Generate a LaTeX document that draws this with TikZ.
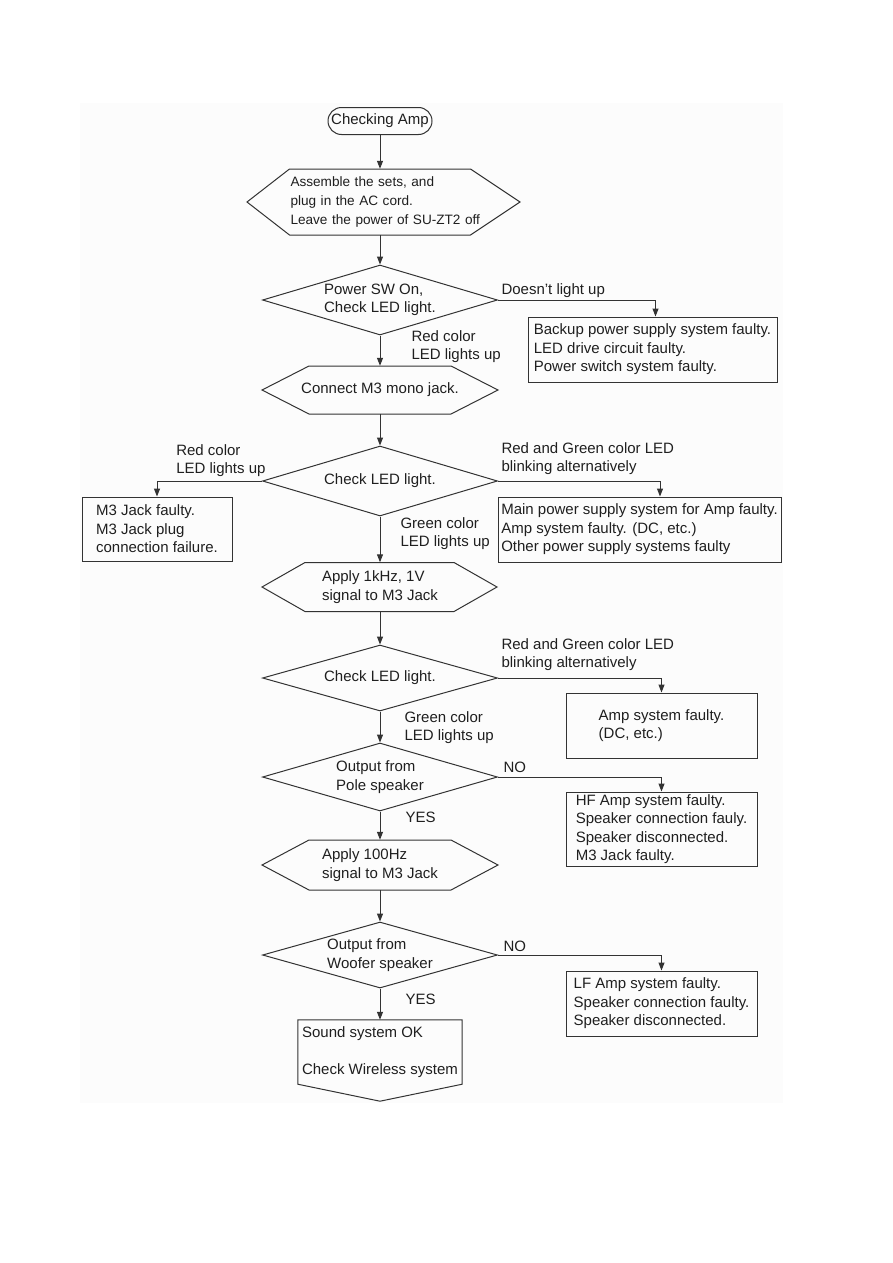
\documentclass[tikz,border=0pt]{standalone}
\usepackage{fontspec}
\setmainfont{Liberation Sans}
\usetikzlibrary{shapes.geometric,arrows.meta}

\begin{document}
\begin{tikzpicture}[
  x=1pt, y=-1pt,
  font=\fontsize{15}{18.5}\selectfont,
  text=black!88,
  conn/.style={draw=black!80, line width=1pt},
  >={Stealth[length=8pt, width=6pt, inset=0pt]},
  startbox/.style={conn, rounded corners=13.5pt, minimum width=104pt, minimum height=27pt, inner sep=0pt},
  hexbox/.style={inner sep=0pt, align=left, minimum height=#1},
  check/.style={conn, diamond, aspect=3.36, minimum width=235pt, minimum height=70pt, inner sep=0pt, align=left},
  fault/.style={conn, align=left, inner sep=0pt},
  lbl/.style={inner sep=0pt, align=left}
]
\useasboundingbox (0,0) rectangle (893,1263);
\fill[black!1] (80,103) rectangle (783,1103);

% main column
\node[startbox] (start) at (380,121) {Checking Amp};
\node[hexbox=66pt, text width=179pt, inner xsep=1pt, font=\fontsize{13.6}{19}\selectfont] (set) at (380,202) {Assemble the sets, and\\plug in the AC cord.\\\mbox{Leave the power of SU-ZT2 off}};
\node[check] (power) at (380,300) {Power SW On,\\Check LED light.};
\node[hexbox=48pt] (jack) at (380,390) {Connect M3 mono jack.};
\node[check] (led1) at (380,481) {Check LED light.};
\node[hexbox=49pt] (sig1k) at (380,587) {Apply 1kHz, 1V\\signal to M3 Jack};
\node[check, minimum height=66pt] (led2) at (380,678) {Check LED light.};
\node[check, minimum height=68pt] (pole) at (380,777) {Output from\\Pole speaker};
\node[hexbox=50pt] (sig100) at (380,865) {Apply 100Hz\\signal to M3 Jack};
\node[check, minimum height=66pt] (woofer) at (380,955) {Output from\\Woofer speaker};
\node[inner sep=0pt, align=left, minimum width=164pt, minimum height=64pt] (ok) at (380,1052) {Sound system OK\\[18.5pt]Check Wireless system};

% fault boxes
\node[fault, minimum width=249pt, minimum height=65pt] (backup) at (652.5,349.5) {Backup power supply system faulty.\\LED drive circuit faulty.\\Power switch system faulty.};
\node[fault, minimum width=150pt, minimum height=64pt] (m3) at (157,529) {M3 Jack faulty.\\M3 Jack plug\\connection failure.};
\node[fault, minimum width=283pt, minimum height=65pt] (mainps) at (639.5,529.5) {Main power supply system for Amp faulty.\\Amp system faulty. (DC, etc.)\\Other power supply systems faulty};
\node[fault, minimum width=191pt, minimum height=65pt] (ampsys) at (661.5,725.5) {Amp system faulty.\\(DC, etc.)};
\node[fault, minimum width=191pt, minimum height=74pt] (hf) at (661.5,829) {HF Amp system faulty.\\Speaker connection fauly.\\Speaker disconnected.\\M3 Jack faulty.};
\node[fault, minimum width=191pt, minimum height=65pt] (lf) at (661.5,1003.5) {LF Amp system faulty.\\Speaker connection faulty.\\Speaker disconnected.};

% outlines
\draw[conn] ([shift={(-90.5,-33)}]set.center) -- ([shift={(90.5,-33)}]set.center) -- ([shift={(140,0)}]set.center) -- ([shift={(90.5,33)}]set.center) -- ([shift={(-90.5,33)}]set.center) -- ([shift={(-133,0)}]set.center) -- cycle;
\draw[conn] ([shift={(-71,-24)}]jack.center) -- ([shift={(71,-24)}]jack.center) -- ([shift={(118,0)}]jack.center) -- ([shift={(71,24)}]jack.center) -- ([shift={(-71,24)}]jack.center) -- ([shift={(-118,0)}]jack.center) -- cycle;
\draw[conn] ([shift={(-75,-24.5)}]sig1k.center) -- ([shift={(74,-24.5)}]sig1k.center) -- ([shift={(117,0)}]sig1k.center) -- ([shift={(74,24.5)}]sig1k.center) -- ([shift={(-75,24.5)}]sig1k.center) -- ([shift={(-118,0)}]sig1k.center) -- cycle;
\draw[conn] ([shift={(-71,-25)}]sig100.center) -- ([shift={(71,-25)}]sig100.center) -- ([shift={(118,0)}]sig100.center) -- ([shift={(71,25)}]sig100.center) -- ([shift={(-71,25)}]sig100.center) -- ([shift={(-118,0)}]sig100.center) -- cycle;
\draw[conn] (ok.north west) -- (ok.north east) -- (ok.south east) -- ([yshift=-17pt]ok.south) -- (ok.south west) -- cycle;

% connectors
\draw[conn,->] (start.south) -- (set.north);
\draw[conn,->] (set.south) -- (power.north);
\draw[conn,->] (power.east) -| ([xshift=3pt]backup.north) node[lbl, pos=0, anchor=south west, xshift=3pt, yshift=2.2pt] (nolight) {Doesn’t light up};
\draw[conn,->] (power.south) -- (jack.north) node[lbl, midway, anchor=west, xshift=31pt, yshift=4pt] (redup1) {Red color\\LED lights up};
\draw[conn,->] (jack.south) -- (led1.north);
\draw[conn,->] (led1.west) -| (m3.north) node[lbl, pos=0, anchor=south east, xshift=4pt, yshift=3.4pt] (redup2) {Red color\\LED lights up};
\draw[conn,->] (led1.east) -| ([xshift=20.5pt]mainps.north) node[lbl, pos=0, anchor=south west, xshift=3pt, yshift=5.4pt] (blink1) {Red and Green color LED\\blinking alternatively};
\draw[conn,->] (led1.south) -- (sig1k.north) node[lbl, midway, anchor=west, xshift=20pt, yshift=6pt] (greenup1) {Green color\\LED lights up};
\draw[conn,->] (sig1k.south) -- (led2.north);
\draw[conn,->] (led2.east) -| (ampsys.north) node[lbl, pos=0, anchor=south west, xshift=3pt, yshift=6.4pt] (blink2) {Red and Green color LED\\blinking alternatively};
\draw[conn,->] (led2.south) -- (pole.north) node[lbl, midway, anchor=west, xshift=24pt, yshift=-0.5pt] (greenup2) {Green color\\LED lights up};
\draw[conn,->] (pole.east) -| (hf.north) node[lbl, pos=0, anchor=south west, xshift=5pt, yshift=3.6pt] (no1) {NO};
\draw[conn,->] (pole.south) -- (sig100.north) node[lbl, midway, anchor=west, xshift=25pt, yshift=8.5pt] (yes1) {YES};
\draw[conn,->] (sig100.south) -- (woofer.north);
\draw[conn,->] (woofer.east) -| (lf.north) node[lbl, pos=0, anchor=south west, xshift=5pt, yshift=2.6pt] (no2) {NO};
\draw[conn,->] (woofer.south) -- (ok.north) node[lbl, midway, anchor=west, xshift=25pt, yshift=5pt] (yes2) {YES};
\end{tikzpicture}
\end{document}
